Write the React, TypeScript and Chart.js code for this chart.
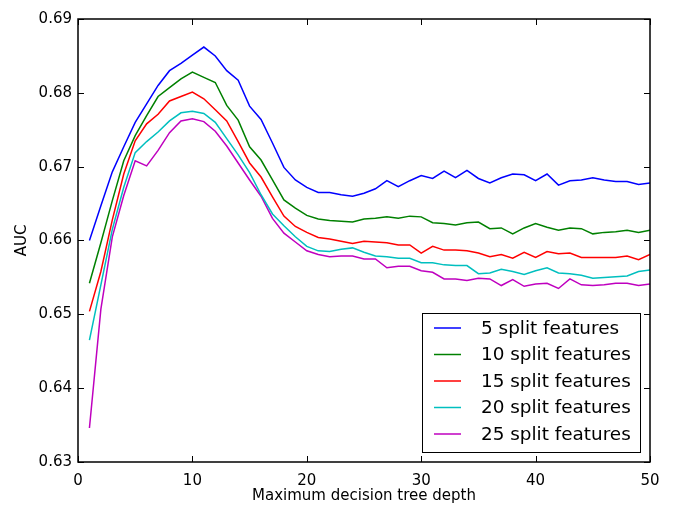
import React, { useEffect, useRef } from "react";
import { Chart, registerables } from "chart.js";

Chart.register(...registerables);

const DEPTHS = [
  1, 2, 3, 4, 5, 6, 7, 8, 9, 10, 11, 12, 13, 14, 15, 16, 17, 18, 19, 20, 21, 22, 23, 24, 25,
  26, 27, 28, 29, 30, 31, 32, 33, 34, 35, 36, 37, 38, 39, 40, 41, 42, 43, 44, 45, 46, 47, 48, 49, 50,
];

const AUC_5 = [
  0.66, 0.6647, 0.6693, 0.6727, 0.676, 0.6785, 0.681, 0.683, 0.684, 0.6851,
  0.6862, 0.685, 0.683, 0.6817, 0.6782, 0.6764, 0.6732, 0.6699, 0.6682, 0.6672,
  0.6665, 0.6665, 0.6662, 0.666, 0.6664, 0.667, 0.6681, 0.6673, 0.6681, 0.6688,
  0.6684, 0.6694, 0.6685, 0.6695, 0.6684, 0.6678, 0.6685, 0.669, 0.6689, 0.6681,
  0.669, 0.6675, 0.6681, 0.6682, 0.6685, 0.6682, 0.668, 0.668, 0.6676, 0.6678,
];
const AUC_10 = [
  0.6542, 0.6597, 0.6654, 0.6708, 0.6742, 0.6769, 0.6795, 0.6807, 0.6819, 0.6828,
  0.6821, 0.6814, 0.6783, 0.6763, 0.6727, 0.6709, 0.6682, 0.6655, 0.6644, 0.6634,
  0.6629, 0.6627, 0.6626, 0.6625, 0.6629, 0.663, 0.6632, 0.663, 0.6633, 0.6632,
  0.6624, 0.6623, 0.6621, 0.6624, 0.6625, 0.6616, 0.6617, 0.6609, 0.6617, 0.6623,
  0.6618, 0.6614, 0.6617, 0.6616, 0.6609, 0.6611, 0.6612, 0.6614, 0.6611, 0.6614,
];
const AUC_15 = [
  0.6504, 0.6558, 0.6628, 0.669, 0.6735, 0.6758, 0.6771, 0.6789, 0.6795, 0.6801,
  0.6792, 0.6777, 0.6762, 0.6734, 0.6705, 0.6686, 0.6659, 0.6633, 0.6619, 0.6611,
  0.6604, 0.6602, 0.6599, 0.6596, 0.6599, 0.6598, 0.6597, 0.6594, 0.6594, 0.6583,
  0.6592, 0.6587, 0.6587, 0.6586, 0.6583, 0.6578, 0.6581, 0.6576, 0.6584, 0.6577,
  0.6585, 0.6582, 0.6583, 0.6577, 0.6577, 0.6577, 0.6577, 0.6579, 0.6574, 0.6581,
];
const AUC_20 = [
  0.6465, 0.654, 0.6615, 0.6672, 0.6719, 0.6734, 0.6747, 0.6762, 0.6773, 0.6775,
  0.6772, 0.676, 0.6738, 0.6716, 0.6692, 0.6662, 0.6636, 0.662, 0.6605, 0.6592,
  0.6586, 0.6585, 0.6588, 0.659, 0.6584, 0.6579, 0.6578, 0.6576, 0.6576, 0.657,
  0.657, 0.6567, 0.6566, 0.6566, 0.6555, 0.6556, 0.6561, 0.6558, 0.6554, 0.6559,
  0.6563, 0.6556, 0.6555, 0.6553, 0.6549, 0.655, 0.6551, 0.6552, 0.6558, 0.656,
];
const AUC_25 = [
  0.6346, 0.6507, 0.6605, 0.6661, 0.6708, 0.6701, 0.6722, 0.6746, 0.6762, 0.6765,
  0.6761, 0.6748, 0.6728, 0.6705, 0.6682, 0.666, 0.663, 0.661, 0.6598, 0.6586,
  0.6581, 0.6578, 0.6579, 0.6579, 0.6575, 0.6575, 0.6563, 0.6565, 0.6565, 0.6559,
  0.6557, 0.6548, 0.6548, 0.6546, 0.6549, 0.6548, 0.6539, 0.6547, 0.6538, 0.6541,
  0.6542, 0.6535, 0.6548, 0.654, 0.6539, 0.654, 0.6542, 0.6542, 0.6539, 0.6541,
];

const SERIES_LABELS = [
  "5 split features",
  "10 split features",
  "15 split features",
  "20 split features",
  "25 split features",
];
const SERIES_VALUES = [AUC_5, AUC_10, AUC_15, AUC_20, AUC_25];
const SERIES_COLORS = ["#0000ff", "#008000", "#ff0000", "#00bfbf", "#bf00bf"];

const X_TICKS = [0, 10, 20, 30, 40, 50];
const Y_TICKS = [0.63, 0.64, 0.65, 0.66, 0.67, 0.68, 0.69];

const X_TITLE = "Maximum decision tree depth";
const Y_TITLE = "AUC";

const FONT = "'DejaVu Sans', sans-serif";

const mplDecor = {
  id: "mplDecor",
  afterDraw(chart: any) {
    const { ctx, chartArea: a, scales } = chart;
    const xs = scales.x;
    const ys = scales.y;
    ctx.save();
    // inward ticks on all four sides
    ctx.strokeStyle = "#000";
    ctx.lineWidth = 1;
    ctx.beginPath();
    for (const v of X_TICKS) {
      const px = Math.round(xs.getPixelForValue(v)) + 0.5;
      ctx.moveTo(px, a.bottom);
      ctx.lineTo(px, a.bottom - 6);
      ctx.moveTo(px, a.top);
      ctx.lineTo(px, a.top + 6);
    }
    for (const v of Y_TICKS) {
      const py = Math.round(ys.getPixelForValue(v)) + 0.5;
      ctx.moveTo(a.left, py);
      ctx.lineTo(a.left + 6, py);
      ctx.moveTo(a.right, py);
      ctx.lineTo(a.right - 6, py);
    }
    ctx.stroke();
    // frame
    ctx.lineWidth = 1.5;
    ctx.strokeRect(a.left, a.top, a.right - a.left, a.bottom - a.top);

    // legend (lower right)
    const bw = 218;
    const bh = 139;
    const bx = a.right - 10 - bw;
    const by = a.bottom - 10 - bh;
    ctx.fillStyle = "#fff";
    ctx.fillRect(bx, by, bw, bh);
    ctx.lineWidth = 1;
    ctx.strokeStyle = "#000";
    ctx.strokeRect(Math.round(bx) + 0.5, Math.round(by) + 0.5, bw, bh);
    ctx.font = `18.4px ${FONT}`;
    ctx.textBaseline = "middle";
    ctx.textAlign = "left";
    chart.data.datasets.forEach((ds: any, i: number) => {
      const cy = by + 15 + i * 26.5;
      ctx.strokeStyle = ds.borderColor;
      ctx.lineWidth = 1.5;
      ctx.beginPath();
      ctx.moveTo(bx + 12, cy);
      ctx.lineTo(bx + 39, cy);
      ctx.stroke();
      ctx.fillStyle = "#000";
      ctx.fillText(ds.label, bx + 59, cy + 1);
    });
    ctx.restore();
  },
};

export default function App() {
  const canvasRef = useRef<HTMLCanvasElement | null>(null);

  useEffect(() => {
    if (!canvasRef.current) return;
    const datasets = SERIES_VALUES.map((vals, i) => ({
      label: SERIES_LABELS[i],
      data: DEPTHS.map((d, j) => ({ x: d, y: vals[j] })),
      borderColor: SERIES_COLORS[i],
      backgroundColor: SERIES_COLORS[i],
      borderWidth: 1.5,
      pointRadius: 0,
      tension: 0,
      fill: false,
    }));
    const chart = new Chart(canvasRef.current, {
      type: "line",
      data: { datasets },
      options: {
        animation: false,
        responsive: false,
        maintainAspectRatio: false,
        layout: { padding: { left: 0, right: 24, top: 19, bottom: 0 } },
        plugins: {
          legend: { display: false },
          tooltip: { enabled: false },
        },
        scales: {
          x: {
            type: "linear",
            min: 0,
            max: 50,
            grid: { display: false, drawTicks: false, tickLength: 0 },
            border: { display: false },
            afterBuildTicks: (s: any) => {
              s.ticks = X_TICKS.map((v) => ({ value: v }));
            },
            afterFit: (s: any) => {
              s.height = 43;
            },
            ticks: {
              color: "#000",
              padding: 10,
              maxRotation: 0,
              font: { family: FONT, size: 15 },
              callback: (v: any) => String(v),
            },
            title: {
              display: true,
              text: X_TITLE,
              color: "#000",
              font: { family: FONT, size: 15 },
              padding: { top: 0, bottom: 0 },
            },
          },
          y: {
            type: "linear",
            min: 0.63,
            max: 0.69,
            grid: { display: false, drawTicks: false, tickLength: 0 },
            border: { display: false },
            afterBuildTicks: (s: any) => {
              s.ticks = Y_TICKS.map((v) => ({ value: v }));
            },
            afterFit: (s: any) => {
              s.width = 78;
            },
            ticks: {
              color: "#000",
              padding: 6,
              font: { family: FONT, size: 15 },
              callback: (v: any) => Number(v).toFixed(2),
            },
            title: {
              display: true,
              text: Y_TITLE,
              color: "#000",
              font: { family: FONT, size: 15 },
              padding: { top: 13, bottom: 0 },
            },
          },
        },
      },
      plugins: [mplDecor],
    });
    return () => chart.destroy();
  }, []);

  return (
    <div style={{ position: "fixed", left: 0, top: 0, width: 674, height: 505, background: "#fff" }}>
      <canvas ref={canvasRef} width={674} height={505} />
    </div>
  );
}
